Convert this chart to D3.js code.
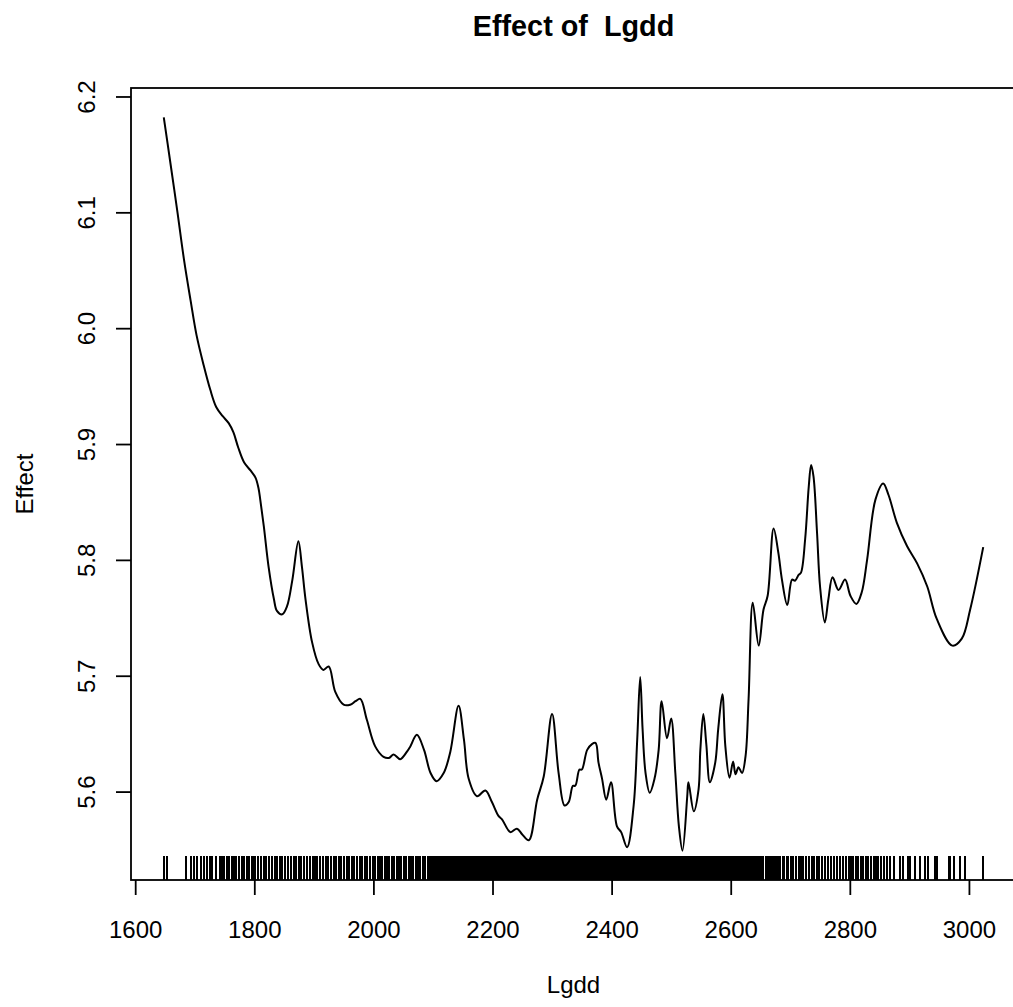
<!DOCTYPE html>
<html>
<head>
<meta charset="utf-8">
<script src="https://cdn.jsdelivr.net/npm/d3@7"></script>
<style>
  body { margin: 0; background: #fff; }
  svg { display: block; }
  text { font-family: "Liberation Sans", Arial, Helvetica, sans-serif; fill: #000; }
</style>
</head>
<body>
<svg id="chart" width="1013" height="1007"></svg>
<script>
// ---- data ----
const effectX = [1648,1659,1671,1682,1693,1703,1715,1726,1736,1747,1757,1765,1773,1783,1794,1802,1807,1810,1816,1824,1833,1838,1847,1855,1864,1874,1880,1886,1897,1908,1916,1925,1936,1950,1961,1970,1978,1989,2003,2017,2026,2034,2045,2057,2062,2073,2085,2096,2106,2118,2129,2143,2152,2160,2174,2188,2199,2210,2216,2230,2241,2250,2261,2275,2286,2300,2311,2321,2328,2335,2339,2346,2350,2359,2367,2373,2378,2384,2391,2399,2409,2416,2426,2437,2443,2448,2452,2457,2464,2472,2479,2484,2493,2500,2507,2513,2519,2527,2529,2538,2546,2549,2554,2559,2565,2574,2579,2586,2591,2598,2604,2608,2613,2619,2625,2630,2637,2647,2655,2662,2672,2680,2686,2695,2703,2708,2714,2718,2725,2731,2735,2739,2745,2750,2758,2764,2771,2781,2792,2801,2811,2820,2829,2843,2856,2865,2879,2896,2913,2930,2946,2972,2988,3002,3024];
const effectY = [6.182,6.143,6.100,6.059,6.024,5.994,5.968,5.947,5.932,5.924,5.918,5.910,5.897,5.884,5.877,5.871,5.862,5.852,5.829,5.794,5.766,5.756,5.753,5.760,5.783,5.816,5.794,5.766,5.729,5.710,5.705,5.708,5.686,5.675,5.675,5.678,5.680,5.662,5.639,5.630,5.629,5.632,5.628,5.635,5.639,5.649,5.636,5.616,5.609,5.616,5.634,5.674,5.645,5.611,5.596,5.601,5.591,5.579,5.576,5.565,5.568,5.563,5.558,5.593,5.613,5.667,5.616,5.588,5.591,5.605,5.605,5.619,5.619,5.636,5.641,5.642,5.625,5.611,5.593,5.608,5.570,5.565,5.552,5.588,5.645,5.699,5.654,5.616,5.599,5.611,5.636,5.678,5.646,5.663,5.616,5.570,5.549,5.596,5.608,5.583,5.602,5.636,5.667,5.641,5.608,5.625,5.654,5.684,5.639,5.612,5.626,5.615,5.621,5.616,5.631,5.680,5.763,5.726,5.757,5.769,5.827,5.806,5.783,5.761,5.783,5.782,5.787,5.789,5.818,5.863,5.882,5.872,5.823,5.777,5.746,5.766,5.785,5.774,5.783,5.769,5.762,5.772,5.800,5.852,5.866,5.856,5.832,5.812,5.797,5.777,5.749,5.726,5.732,5.757,5.811];
const rugX = [1648,1654,1686,1693,1698,1704,1710,1716,1721,1726,1729,1736,1742,1746,1749,1754,1757,1763,1766,1770,1774,1780,1782,1788,1791,1796,1799,
1802,1806,1811,1816,1820,1825,1829,1834,1838,1843,1847,1852,1856,1861,1866,1870,1875,1879,1884,1888,1893,1898,
1902,1906,1911,1915,1920,1924,1928,1933,1937,1942,1946,1950,1955,1959,1964,1968,1972,1977,1981,1986,1990,1994,1999,
2003,2007,2011,2015,2019,2023,2027,2031,2035,2039,2043,2047,2051,2055,2059,2063,2067,2071,2075,2079,2083,2087,2091,2095,2099,
2102,2105,2108,2111,2114,2117,2120,2123,2126,2129,2132,2135,2138,2141,2144,2147,2150,2153,2156,2159,2162,2165,2168,2171,2174,2177,2180,2183,2186,2189,2192,2195,2198,
2200,2202,2204,2206,2209,2211,2213,2215,2218,2220,2222,2224,2227,2229,2231,2233,2236,2238,2240,2242,2245,2247,2249,2251,2254,2256,2258,2260,2263,2265,2267,2269,2272,2274,2276,2278,2281,2283,2285,2287,2290,2292,2294,2296,2299,
2301,2303,2305,2308,2310,2312,2314,2317,2319,2321,2323,2326,2328,2330,2332,2335,2337,2339,2341,2344,2346,2348,2350,2353,2355,2357,2359,2362,2364,2366,2368,2371,2373,2375,2377,2380,2382,2384,2386,2389,2391,2393,2395,2398,
2400,2402,2404,2407,2409,2411,2413,2416,2418,2420,2422,2425,2427,2429,2431,2434,2436,2438,2440,2443,2445,2447,2449,2452,2454,2456,2458,2461,2463,2465,2467,2470,2472,2474,2476,2479,2481,2483,2485,2488,2490,2492,2494,2497,2499,
2501,2503,2506,2508,2510,2512,2515,2517,2519,2521,2524,2526,2528,2530,2533,2535,2537,2539,2542,2544,2546,2548,2551,2553,2555,2557,2560,2562,2564,2566,2569,2571,2573,2575,2578,2580,2582,2584,2587,2589,2591,2593,2596,2598,
2600,2603,2605,2608,2610,2613,2615,2618,2620,2623,2625,2628,2630,2633,2636,2638,2641,2643,2646,2649,
2652,2655,2659,2662,2666,2669,2673,2676,2680,2683,2687,2690,2694,2697,
2701,2705,2709,2714,2718,2722,2727,2731,2736,2740,2745,2749,2754,2759,2763,2768,2773,2778,2783,2788,2793,2798,
2802,2806,2810,2814,2818,2822,2827,2831,2836,2840,2844,2848,2853,2858,2863,2868,2874,
2884,2890,2897,2901,2910,2918,2927,2931,2943,2947,2966,2969,2975,2985,2994,3024];
const xTicks = [1600,1800,2000,2200,2400,2600,2800,3000];
const yTicks = [5.6,5.7,5.8,5.9,6.0,6.1,6.2];
const titleText = "Effect of  Lgdd";
const xLabel = "Lgdd";
const yLabel = "Effect";

// ---- layout ----
const plotL = 131, plotT = 88, plotB = 880, plotR = 1016;
const svg = d3.select("#chart");

const xExt = d3.extent(effectX.concat(rugX));
const yExt = d3.extent(effectY);
const xPad = (xExt[1] - xExt[0]) * 0.04, yPad = (yExt[1] - yExt[0]) * 0.04;
const x = d3.scaleLinear().domain([xExt[0] - xPad, xExt[1] + xPad]).range([plotL, plotR]);
const y = d3.scaleLinear().domain([yExt[0] - yPad, yExt[1] + yPad]).range([plotB, plotT]);

const lw = 1.8;

// rug
const rugLen = (plotB - plotT) * 0.03;
svg.append("g").attr("shape-rendering", "crispEdges")
  .selectAll("line").data(rugX).join("line")
  .attr("x1", d => x(d)).attr("x2", d => x(d))
  .attr("y1", plotB).attr("y2", plotB - rugLen)
  .attr("stroke", "#000").attr("stroke-width", 2);

// curve
const pts = effectX.map((d, i) => [d, effectY[i]]);
svg.append("path").datum(pts)
  .attr("fill", "none").attr("stroke", "#000").attr("stroke-width", 2)
  .attr("stroke-linejoin", "round")
  .attr("d", d3.line().x(d => x(d[0])).y(d => y(d[1])).curve(d3.curveCatmullRom.alpha(0.5)));

// box
svg.append("rect").attr("x", plotL).attr("y", plotT)
  .attr("width", plotR - plotL).attr("height", plotB - plotT)
  .attr("fill", "none").attr("stroke", "#000").attr("stroke-width", lw);

// x axis
const gx = svg.append("g").attr("transform", `translate(0,${plotB})`)
  .call(d3.axisBottom(x).tickValues(xTicks).tickSize(15).tickSizeOuter(0).tickFormat(d3.format("d")));
gx.select(".domain").remove();
gx.selectAll(".tick line").attr("stroke", "#000").attr("stroke-width", lw);
gx.selectAll(".tick text").attr("y", 58).attr("dy", 0).style("font-size", "24px");

// y axis
const gy = svg.append("g").attr("transform", `translate(${plotL},0)`)
  .call(d3.axisLeft(y).tickValues(yTicks).tickSize(15).tickSizeOuter(0).tickFormat(d3.format(".1f")));
gy.select(".domain").remove();
gy.selectAll(".tick line").attr("stroke", "#000").attr("stroke-width", lw);
gy.selectAll(".tick text")
  .attr("transform", "rotate(-90)").attr("x", 0).attr("y", -36).attr("dy", 0)
  .style("text-anchor", "middle").style("font-size", "24px");

// title & labels
const cx = (plotL + plotR) / 2;
svg.append("text").attr("x", cx).attr("y", 36).attr("text-anchor", "middle")
  .style("font-size", "28.8px").style("font-weight", "bold").style("white-space", "pre")
  .text(titleText);
svg.append("text").attr("x", cx).attr("y", 993).attr("text-anchor", "middle")
  .style("font-size", "24px").text(xLabel);
svg.append("text").attr("transform", `translate(33,${(plotT + plotB) / 2}) rotate(-90)`)
  .attr("text-anchor", "middle").style("font-size", "24px").text(yLabel);
</script>
</body>
</html>
